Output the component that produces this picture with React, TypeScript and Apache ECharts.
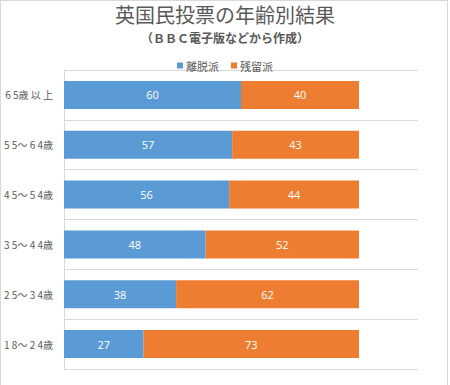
import React, { useEffect, useRef } from "react";
import * as echarts from "echarts";

const categories = ["1 8～ 2 4歳", "2 5～ 3 4歳", "3 5～ 4 4歳", "4 5～ 5 4歳", "5 5～ 6 4歳", "6 5歳 以 上"];
const leaveValues = [27, 38, 48, 56, 57, 60];
const remainValues = [73, 62, 52, 44, 43, 40];
const seriesNames = ["離脱派", "残留派"];
const titleText = "英国民投票の年齢別結果";
const subtitleText = "（ＢＢＣ電子版などから作成）";

const JP = "'Noto Sans CJK JP', 'Noto Sans', sans-serif";

export default function App() {
  const ref = useRef<HTMLDivElement>(null);
  useEffect(() => {
    if (!ref.current) return;
    const chart = echarts.init(ref.current, undefined, { renderer: "svg" });
    chart.setOption({
      animation: false,
      backgroundColor: "#ffffff",
      title: [
        {
          text: titleText,
          left: "center",
          top: 3,
          padding: 0,
          textStyle: { fontFamily: JP, fontSize: 20, lineHeight: 22, fontWeight: "normal", color: "#595959" },
        },
        {
          text: subtitleText,
          left: "center",
          top: 31,
          padding: 0,
          textStyle: { fontFamily: JP, fontSize: 12, lineHeight: 13, fontWeight: "bold", color: "#595959" },
        },
      ],
      legend: {
        top: 55,
        left: "center",
        icon: "rect",
        itemWidth: 6,
        itemHeight: 6,
        itemGap: 12,
        textStyle: { fontFamily: JP, fontSize: 11, color: "#595959", padding: [0, 0, 0, -2] },
        data: seriesNames,
      },
      grid: { left: 64, top: 70, right: 32, bottom: 16, containLabel: false, outerBoundsMode: "none" },
      xAxis: {
        type: "value",
        min: 0,
        max: 120,
        show: false,
      },
      yAxis: {
        type: "category",
        data: categories,
        axisLine: { show: true, lineStyle: { color: "#d9d9d9" } },
        axisTick: { show: false },
        splitLine: { show: true, lineStyle: { color: "#d9d9d9", width: 1 } },
        axisLabel: { fontFamily: JP, fontSize: 10, color: "#595959", margin: 11 },
      },
      series: [
        {
          name: seriesNames[0],
          type: "bar",
          stack: "total",
          barWidth: 28,
          data: leaveValues,
          itemStyle: { color: "#5B9BD5" },
          label: { show: true, position: "inside", color: "#ffffff", fontSize: 11, fontFamily: "'Open Sans', sans-serif" },
        },
        {
          name: seriesNames[1],
          type: "bar",
          stack: "total",
          barWidth: 28,
          data: remainValues,
          itemStyle: { color: "#ED7D31" },
          label: { show: true, position: "inside", color: "#ffffff", fontSize: 11, fontFamily: "'Open Sans', sans-serif" },
        },
      ],
    });
    return () => chart.dispose();
  }, []);
  return (
    <div style={{ position: "absolute", left: 0, top: 0, width: 450, height: 385, overflow: "hidden" }}>
      <div ref={ref} style={{ position: "absolute", left: 0, top: 0, width: 450, height: 385 }} />
      <div
        style={{
          position: "absolute",
          left: 0,
          top: 0,
          width: 448,
          height: 400,
          boxSizing: "border-box",
          border: "1px solid #d9d9d9",
          pointerEvents: "none",
        }}
      />
    </div>
  );
}
